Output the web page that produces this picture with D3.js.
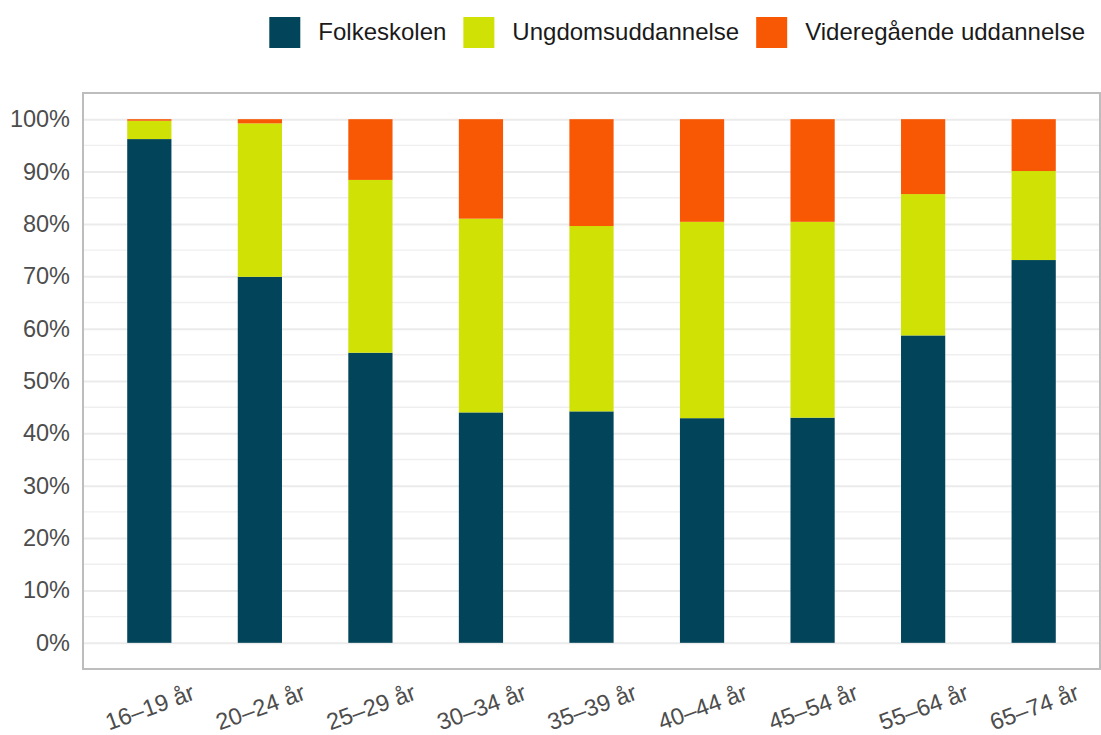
<!DOCTYPE html>
<html>
<head>
<meta charset="utf-8">
<script src="https://cdn.jsdelivr.net/npm/d3@7"></script>
<style>
  body { margin: 0; background: #fff; }
  svg { display: block; font-family: "Liberation Sans", Arial, sans-serif; }
</style>
</head>
<body>
<div id="chart"></div>
<script>
// data (shares of each age group)
const categories = ['16–19 år', '20–24 år', '25–29 år', '30–34 år', '35–39 år', '40–44 år', '45–54 år', '55–64 år', '65–74 år'];
const seriesNames = ['Folkeskolen', 'Ungdomsuddannelse', 'Videregående uddannelse'];
const folkeskolen = [0.962, 0.699, 0.554, 0.440, 0.442, 0.429, 0.430, 0.587, 0.731];
const ungdomsuddannelse = [0.035, 0.293, 0.330, 0.370, 0.354, 0.375, 0.374, 0.270, 0.170];
const videregaende = [0.003, 0.008, 0.116, 0.190, 0.204, 0.196, 0.196, 0.143, 0.099];
const yTicks = [0, 0.1, 0.2, 0.3, 0.4, 0.5, 0.6, 0.7, 0.8, 0.9, 1];
const colors = ['#02455a', '#d0e106', '#f85703'];

const w = 1101;
const h = 735;
const panel = { left: 83, right: 1100, top: 93, bottom: 669 };

const rows = categories.map((c, i) => ({
  cat: c,
  'Folkeskolen': folkeskolen[i],
  'Ungdomsuddannelse': ungdomsuddannelse[i],
  'Videregående uddannelse': videregaende[i]
}));
const stacked = d3.stack().keys(seriesNames)(rows);

const xScale = d3.scalePoint()
  .domain(categories)
  .range([panel.left, panel.right])
  .padding(0.6);
const barW = xScale.step() * 0.4;

const yScale = d3.scaleLinear()
  .domain([-0.05, 1.05])
  .range([panel.bottom, panel.top]);

const svg = d3.select('#chart')
  .append('svg')
  .attr('width', w)
  .attr('height', h);

// minor grid (5% steps)
svg.append('g')
  .selectAll('line')
  .data(d3.range(0.05, 1, 0.1))
  .enter()
  .append('line')
  .attr('x1', panel.left)
  .attr('x2', panel.right)
  .attr('y1', d => yScale(d))
  .attr('y2', d => yScale(d))
  .attr('stroke', '#efefef')
  .attr('stroke-width', 1.4);

// y axis with major grid
const yAxis = d3.axisLeft(yScale)
  .tickValues(yTicks)
  .tickFormat(d3.format('.0%'))
  .tickSize(-(panel.right - panel.left))
  .tickPadding(13);

svg.append('g')
  .attr('id', 'y-axis')
  .attr('transform', 'translate(' + panel.left + ', 0)')
  .call(yAxis)
  .call(g => g.select('.domain').remove())
  .call(g => g.selectAll('line').attr('stroke', '#ebebeb').attr('stroke-width', 2))
  .call(g => g.selectAll('text')
    .attr('fill', '#4d4d4d')
    .style('font-size', '23.5px')
    .style('font-family', '"Liberation Sans", Arial, sans-serif'));

// bars
svg.append('g')
  .selectAll('g')
  .data(stacked)
  .enter()
  .append('g')
  .attr('fill', (d, i) => colors[i])
  .selectAll('rect')
  .data(d => d)
  .enter()
  .append('rect')
  .attr('x', d => xScale(d.data.cat) - barW / 2)
  .attr('y', d => yScale(d[1]))
  .attr('width', barW)
  .attr('height', d => yScale(d[0]) - yScale(d[1]));

// panel border
svg.append('rect')
  .attr('x', panel.left)
  .attr('y', panel.top)
  .attr('width', panel.right - panel.left)
  .attr('height', panel.bottom - panel.top)
  .attr('fill', 'none')
  .attr('stroke', '#bdbdbd')
  .attr('stroke-width', 2);

// x axis labels, rotated
const xAxis = d3.axisBottom(xScale).tickSize(0).tickPadding(0);
svg.append('g')
  .attr('id', 'x-axis')
  .attr('transform', 'translate(0, 707)')
  .call(xAxis)
  .call(g => g.select('.domain').remove())
  .call(g => g.selectAll('text')
    .attr('y', 0)
    .attr('dy', '0.35em')
    .attr('transform', 'rotate(-20)')
    .style('text-anchor', 'middle')
    .attr('fill', '#4d4d4d')
    .style('font-size', '23.5px')
    .style('font-family', '"Liberation Sans", Arial, sans-serif'));

// legend, right aligned
const legend = svg.append('g').attr('id', 'legend');
const items = legend.selectAll('g')
  .data(seriesNames)
  .enter()
  .append('g');

items.append('rect')
  .attr('width', 31)
  .attr('height', 31)
  .attr('y', 17)
  .attr('fill', (d, i) => colors[i]);

items.append('text')
  .attr('x', 49)
  .attr('y', 32)
  .attr('dy', '0.35em')
  .attr('fill', '#1a1a1a')
  .style('font-size', '24px')
  .text(d => d);

let xPos = 0;
const offsets = [];
items.each(function() {
  offsets.push(xPos);
  const tw = d3.select(this).select('text').node().getComputedTextLength();
  xPos += 49 + tw + 17;
});
const legendW = xPos - 17;
const legendStart = 1085 - legendW;
items.attr('transform', (d, i) => 'translate(' + (legendStart + offsets[i]) + ', 0)');
</script>
</body>
</html>
